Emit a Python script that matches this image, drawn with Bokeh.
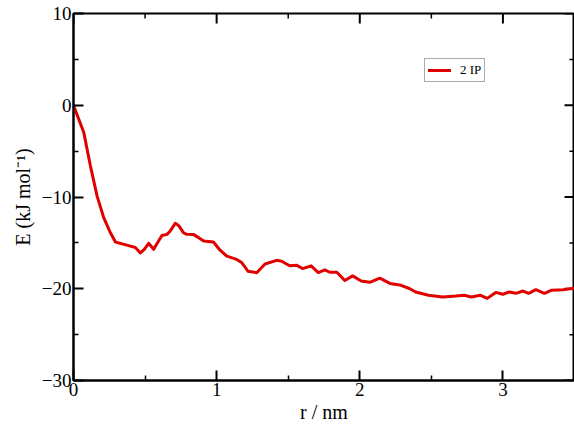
import math
from bokeh.plotting import figure
from bokeh.models import Range1d, Legend, LegendItem, FixedTicker
from bokeh.embed import file_html
from bokeh.resources import INLINE

r_nm = [0.0, 0.072, 0.118, 0.165, 0.211, 0.258, 0.293, 0.327, 0.385, 0.432, 0.467,
        0.495, 0.525, 0.56, 0.588, 0.618, 0.653, 0.676, 0.711, 0.734, 0.769, 0.79,
        0.84, 0.91, 0.978, 1.024, 1.071, 1.14, 1.175, 1.22, 1.28, 1.338, 1.42, 1.454,
        1.51, 1.56, 1.60, 1.66, 1.71, 1.756, 1.79, 1.84, 1.895, 1.95, 2.01, 2.07,
        2.14, 2.21, 2.28, 2.35, 2.39, 2.48, 2.58, 2.67, 2.73, 2.78, 2.84, 2.89, 2.95,
        3.0, 3.045, 3.09, 3.14, 3.18, 3.23, 3.29, 3.34, 3.42, 3.5]
energy = [0.0, -2.98, -6.6, -9.9, -12.25, -13.9, -14.9, -15.05, -15.3, -15.5, -16.1,
          -15.7, -15.05, -15.7, -14.97, -14.2, -14.07, -13.7, -12.87, -13.1, -13.9, -14.07,
          -14.1, -14.8, -14.9, -15.8, -16.45, -16.8, -17.15, -18.1, -18.25, -17.3, -16.9, -17.0,
          -17.5, -17.45, -17.8, -17.5, -18.25, -17.95, -18.2, -18.2, -19.1, -18.6, -19.15, -19.3,
          -18.85, -19.42, -19.58, -20.0, -20.35, -20.7, -20.9, -20.8, -20.7, -20.9, -20.7, -21.05, -20.4,
          -20.6, -20.35, -20.5, -20.25, -20.5, -20.1, -20.5, -20.15, -20.1, -19.95]
series_name = "2 IP"
x_ticks = [0, 1, 2, 3]
x_minor = [0.5, 1.5, 2.5, 3.5]
y_ticks = [-30, -20, -10, 0, 10]
y_minor = [-25, -15, -5, 5]
x_lim = (0, 3.5)
y_lim = (-30, 10)

FONT = "Liberation Serif"

p = figure(width=574, height=425, output_backend="svg", toolbar_location=None,
           x_range=Range1d(*x_lim), y_range=Range1d(*y_lim),
           min_border_left=73, min_border_top=13, min_border_bottom=45, min_border_right=0)
p.background_fill_color = "white"
p.grid.visible = False
p.outline_line_color = "black"
p.outline_line_width = 2

def style_axis(ax):
    ax.axis_line_width = 2
    ax.axis_line_color = "black"
    ax.major_tick_line_width = 2
    ax.minor_tick_line_width = 1.5
    ax.major_tick_in = 10
    ax.major_tick_out = 0
    ax.minor_tick_in = 5
    ax.minor_tick_out = 0
    ax.major_label_text_font = FONT
    ax.major_label_text_font_size = "19px"
    ax.major_label_text_color = "black"
    ax.major_label_standoff = 2
    ax.axis_label_text_font = FONT
    ax.axis_label_text_font_size = "20px"
    ax.axis_label_text_font_style = "normal"
    ax.axis_label_text_color = "black"

xa = p.xaxis[0]
ya = p.yaxis[0]
xa.ticker = FixedTicker(ticks=x_ticks, minor_ticks=x_minor)
ya.ticker = FixedTicker(ticks=y_ticks, minor_ticks=y_minor)
style_axis(xa)
style_axis(ya)
xa.axis_label = "r / nm"
xa.axis_label_standoff = 2
ya.axis_label = "E (kJ mol\u207b\u00b9)"
ya.axis_label_standoff = 5

# inward ticks on the top and right borders
p.ray(x=x_ticks, y=[y_lim[1]] * len(x_ticks), length=10, angle=-math.pi / 2,
      length_units="screen", line_color="black", line_width=2)
p.ray(x=x_minor, y=[y_lim[1]] * len(x_minor), length=5, angle=-math.pi / 2,
      length_units="screen", line_color="black", line_width=1.5)
p.ray(x=[x_lim[1]] * len(y_ticks), y=y_ticks, length=10, angle=math.pi,
      length_units="screen", line_color="black", line_width=2)
p.ray(x=[x_lim[1]] * len(y_minor), y=y_minor, length=5, angle=math.pi,
      length_units="screen", line_color="black", line_width=1.5)

line = p.line(r_nm, energy, line_color="#e00000", line_width=3,
              line_join="round", line_cap="round")

legend = Legend(items=[LegendItem(label=series_name, renderers=[line])],
                location=(351, 298))
legend.border_line_color = "#555555"
legend.border_line_width = 1
legend.label_text_font = FONT
legend.label_text_font_size = "13px"
legend.label_text_color = "black"
legend.label_height = 14
legend.glyph_width = 23
legend.glyph_height = 14
legend.padding = 3
legend.margin = 0
legend.spacing = 0
legend.label_standoff = 9
p.add_layout(legend, "center")

open("out.html", "w").write(file_html(p, INLINE))
